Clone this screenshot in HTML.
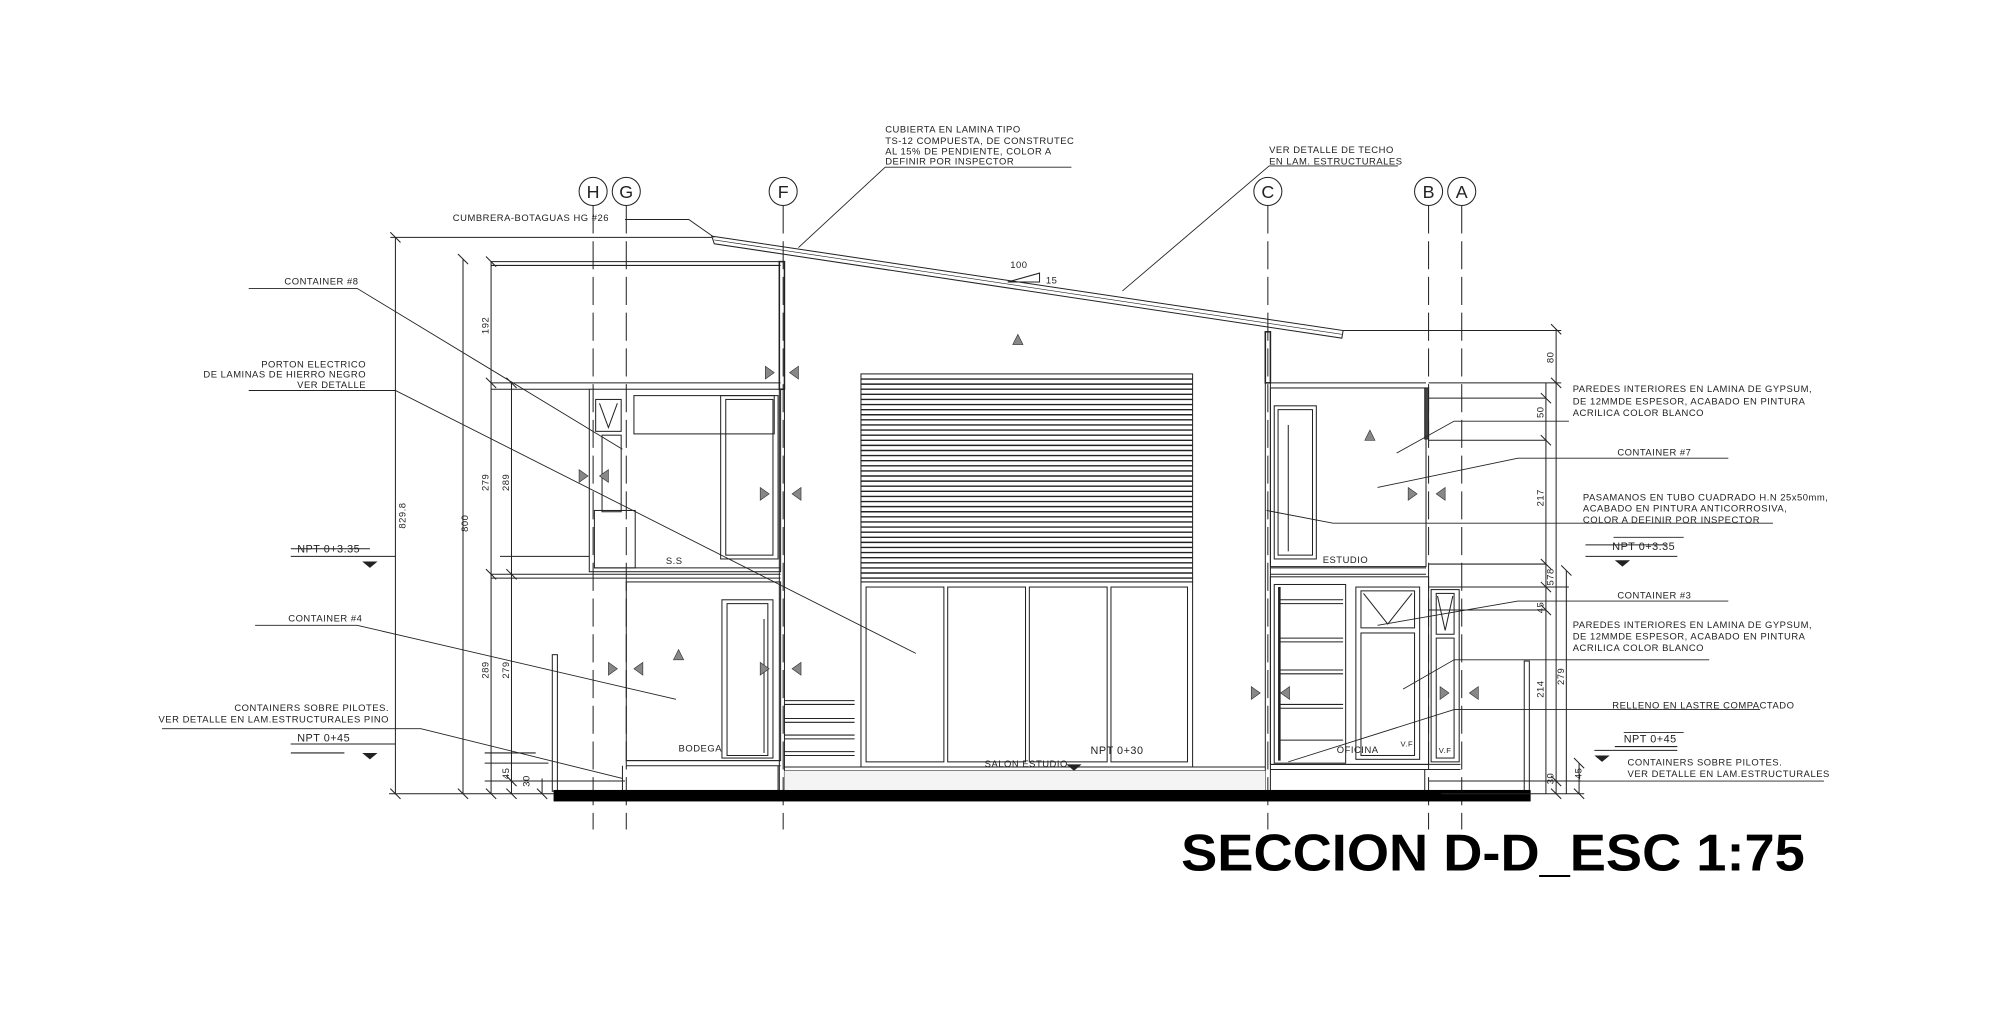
<!DOCTYPE html>
<html><head><meta charset="utf-8"><style>
html,body{margin:0;padding:0;background:#fff;}
svg{display:block;}
text{font-family:"Liberation Sans",sans-serif;fill:#222;}
.s{font-size:7.4px;letter-spacing:0.4px;}
</style></head><body>
<svg width="2000" height="1012" viewBox="0 0 1568 793" preserveAspectRatio="none" xmlns="http://www.w3.org/2000/svg">
<g stroke="#222" stroke-width="0.8" fill="none">
<g stroke-dasharray="22,6">
<line x1="465" y1="161" x2="465" y2="650"/><line x1="491" y1="161" x2="491" y2="650"/>
<line x1="614" y1="161" x2="614" y2="650"/><line x1="994" y1="161" x2="994" y2="650"/>
<line x1="1120" y1="161" x2="1120" y2="650"/><line x1="1146" y1="161" x2="1146" y2="650"/>
</g>
<circle cx="465" cy="150" r="11"/><circle cx="491" cy="150" r="11"/><circle cx="614" cy="150" r="11"/>
<circle cx="994" cy="150" r="11"/><circle cx="1120" cy="150" r="11"/><circle cx="1146" cy="150" r="11"/>
<polygon points="558,185 1053,259 1052,265 560,191"/>
<line x1="560" y1="188" x2="1052" y2="262" stroke-width="0.5"/>
<polyline points="790,221 815,221 815,214 790,221"/>
<rect x="611" y="205" width="4" height="100" stroke-width="1.2"/>
<line x1="611" y1="305" x2="611" y2="620"/><line x1="615" y1="305" x2="615" y2="620"/>
<rect x="992" y="260" width="4" height="40" stroke-width="1.2"/>
<line x1="992" y1="300" x2="992" y2="620"/><line x1="996" y1="300" x2="996" y2="620"/>
<rect x="675" y="293" width="260" height="163"/>
<g stroke-width="1.1">
<path d="M675 297H935M675 301H935M675 305H935M675 309H935M675 313H935M675 317H935M675 321H935M675 325H935M675 329H935M675 333H935M675 337H935M675 341H935M675 345H935M675 349H935M675 353H935M675 357H935M675 361H935M675 365H935M675 369H935M675 373H935M675 377H935M675 381H935M675 385H935M675 389H935M675 393H935M675 397H935M675 401H935M675 405H935M675 409H935M675 413H935M675 417H935M675 421H935M675 425H935M675 429H935M675 433H935M675 437H935M675 441H935M675 445H935M675 449H935M675 453H935"/>
</g>
<rect x="675" y="456" width="260" height="145"/>
<rect x="679" y="460" width="61" height="137"/><rect x="743" y="460" width="61" height="137"/>
<rect x="807" y="460" width="61" height="137"/><rect x="871" y="460" width="60" height="137"/>
<line x1="615" y1="601" x2="992" y2="601"/><line x1="615" y1="604" x2="992" y2="604"/>
<path d="M615 549H670M615 552H670M615 563H670M615 566H670M615 576H670M615 579H670M615 589H670M615 592H670"/>
<path d="M385 205H612M385 208H612"/>
<path d="M385 300H612M385 305H462"/>
<rect x="462" y="305" width="150" height="143"/>
<rect x="497" y="310" width="110" height="30"/>
<rect x="565" y="310" width="45" height="128"/>
<rect x="569" y="313" width="37" height="122"/>
<rect x="467" y="313" width="20" height="25"/><path d="M470 316L477 335L484 316"/>
<rect x="472" y="341" width="15" height="60"/>
<rect x="466" y="400" width="32" height="45"/>
<line x1="466" y1="445" x2="612" y2="445"/>
<path d="M385 450H612M385 453H612"/>
<rect x="491" y="456" width="121" height="140"/>
<rect x="566" y="470" width="40" height="124"/><rect x="570" y="473" width="32" height="119"/>
<line x1="599" y1="485" x2="599" y2="590"/>
<line x1="491" y1="596" x2="612" y2="596"/><line x1="491" y1="600" x2="612" y2="600"/>
<line x1="488" y1="600" x2="488" y2="620"/><line x1="610" y1="600" x2="610" y2="620"/>
<rect x="433" y="513" width="4" height="107"/>
<path d="M996 300H1118M996 304H1118"/>
<rect x="996" y="304" width="122" height="140"/>
<rect x="999" y="318" width="33" height="120"/><rect x="1002" y="321" width="27" height="114"/>
<line x1="1010" y1="333" x2="1010" y2="432"/>
<rect x="1117" y="304" width="3" height="40" fill="#444"/>
<path d="M996 445H1118M996 450H1118"/>
<rect x="996" y="452" width="124" height="147"/>
<rect x="999" y="458" width="56" height="140"/>
<path d="M1003 470H1053M1003 473H1053M1003 500H1053M1003 503H1053M1003 525H1053M1003 528H1053M1003 552H1053M1003 555H1053M1003 580H1053"/>
<line x1="1003" y1="460" x2="1003" y2="596" stroke-width="2"/>
<rect x="1063" y="460" width="50" height="135"/>
<rect x="1067" y="463" width="42" height="29"/><path d="M1069 465L1088 489L1107 465"/>
<rect x="1067" y="496" width="42" height="96"/>
<rect x="1122" y="462" width="22" height="135"/>
<rect x="1126" y="465" width="14" height="32"/><path d="M1127 467L1133 494L1139 467"/>
<rect x="1126" y="500" width="14" height="94"/>
<line x1="996" y1="599" x2="1145" y2="599"/><line x1="996" y1="603" x2="1145" y2="603"/>
<line x1="1117" y1="603" x2="1117" y2="620"/>
<rect x="1195" y="518" width="4" height="102"/>
<rect x="434" y="619" width="766" height="9" fill="#000" stroke="none"/>
<rect x="615" y="604" width="377" height="15" fill="#f4f4f4" stroke="none"/>
<line x1="310" y1="186" x2="310" y2="622"/><line x1="306" y1="186" x2="558" y2="186"/>
<line x1="363" y1="203" x2="363" y2="622"/>
<line x1="385" y1="205" x2="385" y2="622"/>
<line x1="401" y1="300" x2="401" y2="622"/>
<line x1="425" y1="610" x2="425" y2="622"/>
<path d="M305 622H434M380 612H490M380 598H430"/>
<path d="M228 436H310M392 436H462M228 590H270M228 583H310M380 590H420"/>
<path d="M306 182l8 8M359 199l8 8M381 201l8 8M381 296l8 8M397 296l8 8M381 446l8 8M397 446l8 8M306 618l8 8M359 618l8 8M381 618l8 8M397 618l8 8M421 618l8 8M397 608l8 8"/>
<line x1="1220" y1="258" x2="1220" y2="622"/><line x1="1212" y1="300" x2="1212" y2="622"/>
<line x1="1228" y1="447" x2="1228" y2="622"/><line x1="1238" y1="598" x2="1238" y2="622"/>
<path d="M1053 259H1224M1120 300H1224M1120 312H1212M1120 345H1212M1120 442H1212M1120 460H1230M1120 478H1212M1120 612H1240M1130 622H1242"/>
<path d="M1216 254l8 8M1216 296l8 8M1208 308l8 8M1208 341l8 8M1208 438l8 8M1224 443l8 8M1208 456l8 8M1208 474l8 8M1234 594l8 8M1216 608l8 8M1234 618l8 8M1216 618l8 8"/>
<path d="M1243 436H1315M1250 588H1315M1243 427H1306M1266 585H1315"/>
<g stroke-width="0.7">
<polyline points="840,131 694,131 626,194"/>
<polyline points="1096,130 995,130 880,228"/>
<polyline points="490,172 540,172 560,186"/>
<polyline points="195,226 280,226 488,352"/>
<polyline points="195,306 310,306 718,512"/>
<polyline points="200,490 280,490 530,548"/>
<polyline points="127,571 330,571 488,610"/>
<polyline points="228,430 290,430"/><polyline points="228,583 290,583"/>
<polyline points="1230,330 1140,330 1095,355"/>
<polyline points="1355,359 1190,359 1080,382"/>
<polyline points="1390,410 1045,410 993,400"/>
<polyline points="1355,471 1190,471 1080,490"/>
<polyline points="1340,517 1140,517 1100,540"/>
<polyline points="1380,556 1140,556 1010,597"/>
<polyline points="1430,612 1130,612"/>
<polyline points="1265,421 1320,421"/><polyline points="1273,574 1320,574"/>
</g>
</g>
<g fill="#222">
<polygon points="284,440 296,440 290,445"/><polygon points="284,590 296,590 290,595"/>
<polygon points="1266,439 1278,439 1272,444"/><polygon points="1250,592 1262,592 1256,597"/>
<polygon points="836,599 848,599 842,604"/>
</g>
<g fill="#888" stroke="#333" stroke-width="0.5">
<polygon points="794,270 802,270 798,262"/><polygon points="528,517 536,517 532,509"/><polygon points="1070,345 1078,345 1074,337"/>
<polygon points="600,287 607,292 600,297"/><polygon points="626,287 619,292 626,297"/>
<polygon points="596,382 603,387 596,392"/><polygon points="628,382 621,387 628,392"/>
<polygon points="454,368 461,373 454,378"/><polygon points="477,368 470,373 477,378"/>
<polygon points="477,519 484,524 477,529"/><polygon points="504,519 497,524 504,529"/>
<polygon points="596,519 603,524 596,529"/><polygon points="628,519 621,524 628,529"/>
<polygon points="1104,382 1111,387 1104,392"/><polygon points="1133,382 1126,387 1133,392"/>
<polygon points="981,538 988,543 981,548"/><polygon points="1011,538 1004,543 1011,548"/>
<polygon points="1129,538 1136,543 1129,548"/><polygon points="1159,538 1152,543 1159,548"/>
</g>
<g font-size="14" text-anchor="middle">
<text x="465" y="155">H</text><text x="491" y="155">G</text><text x="614" y="155">F</text>
<text x="994" y="155">C</text><text x="1120" y="155">B</text><text x="1146" y="155">A</text>
</g>
<g class="s">
<text x="694" y="104">CUBIERTA EN LAMINA TIPO</text>
<text x="694" y="113">TS-12 COMPUESTA, DE CONSTRUTEC</text>
<text x="694" y="121">AL 15% DE PENDIENTE, COLOR A</text>
<text x="694" y="129">DEFINIR POR INSPECTOR</text>
<text x="995" y="120">VER DETALLE DE TECHO</text>
<text x="995" y="129">EN LAM. ESTRUCTURALES</text>
<text x="355" y="173">CUMBRERA-BOTAGUAS HG #26</text>
<text x="223" y="223">CONTAINER #8</text>
<text x="287" y="288" text-anchor="end">PORTON ELECTRICO</text>
<text x="287" y="296" text-anchor="end">DE LAMINAS DE HIERRO NEGRO</text>
<text x="287" y="304" text-anchor="end">VER DETALLE</text>
<text x="233" y="433" font-size="8.5">NPT 0+3.35</text>
<text x="226" y="487">CONTAINER #4</text>
<text x="305" y="557" text-anchor="end">CONTAINERS SOBRE PILOTES.</text>
<text x="305" y="566" text-anchor="end">VER DETALLE EN LAM.ESTRUCTURALES PINO</text>
<text x="233" y="581" font-size="8.5">NPT 0+45</text>
<text x="1233" y="307">PAREDES INTERIORES EN LAMINA DE GYPSUM,</text>
<text x="1233" y="317">DE 12MMDE ESPESOR, ACABADO EN PINTURA</text>
<text x="1233" y="326">ACRILICA COLOR BLANCO</text>
<text x="1268" y="357">CONTAINER #7</text>
<text x="1241" y="392">PASAMANOS EN TUBO CUADRADO H.N 25x50mm,</text>
<text x="1241" y="401">ACABADO EN PINTURA ANTICORROSIVA,</text>
<text x="1241" y="410">COLOR A DEFINIR POR INSPECTOR</text>
<text x="1264" y="431" font-size="8.5">NPT 0+3.35</text>
<text x="1268" y="469">CONTAINER #3</text>
<text x="1233" y="492">PAREDES INTERIORES EN LAMINA DE GYPSUM,</text>
<text x="1233" y="501">DE 12MMDE ESPESOR, ACABADO EN PINTURA</text>
<text x="1233" y="510">ACRILICA COLOR BLANCO</text>
<text x="1264" y="555">RELLENO EN LASTRE COMPACTADO</text>
<text x="1273" y="582" font-size="8.5">NPT 0+45</text>
<text x="1276" y="600">CONTAINERS SOBRE PILOTES.</text>
<text x="1276" y="609">VER DETALLE EN LAM.ESTRUCTURALES</text>
<text x="522" y="442">S.S</text>
<text x="532" y="589">BODEGA</text>
<text x="1037" y="441">ESTUDIO</text>
<text x="1048" y="590">OFICINA</text>
<text x="1098" y="585" font-size="6">V.F</text><text x="1128" y="590" font-size="6">V.F</text>
<text x="772" y="601">SALON ESTUDIO</text>
<text x="855" y="591" font-size="8.5">NPT 0+30</text>
<text x="792" y="210">100</text><text x="820" y="222">15</text>
</g>
<g class="s" text-anchor="middle">
<text transform="translate(318,404) rotate(-90)">829.8</text>
<text transform="translate(367,410) rotate(-90)">800</text>
<text transform="translate(383,255) rotate(-90)">192</text>
<text transform="translate(383,378) rotate(-90)">279</text>
<text transform="translate(399,378) rotate(-90)">289</text>
<text transform="translate(383,525) rotate(-90)">289</text>
<text transform="translate(399,525) rotate(-90)">279</text>
<text transform="translate(399,606) rotate(-90)">45</text>
<text transform="translate(415,612) rotate(-90)">30</text>
<text transform="translate(1218,280) rotate(-90)">80</text>
<text transform="translate(1210,323) rotate(-90)">50</text>
<text transform="translate(1210,390) rotate(-90)">217</text>
<text transform="translate(1218,452) rotate(-90)">578</text>
<text transform="translate(1210,476) rotate(-90)">45</text>
<text transform="translate(1210,540) rotate(-90)">214</text>
<text transform="translate(1226,530) rotate(-90)">279</text>
<text transform="translate(1218,610) rotate(-90)">30</text>
<text transform="translate(1240,606) rotate(-90)">45</text>
</g>
<text x="926" y="682" font-size="41" font-weight="bold" textLength="489" lengthAdjust="spacingAndGlyphs" style="fill:#000">SECCION D-D_ESC 1:75</text>
</svg>
</body></html>
